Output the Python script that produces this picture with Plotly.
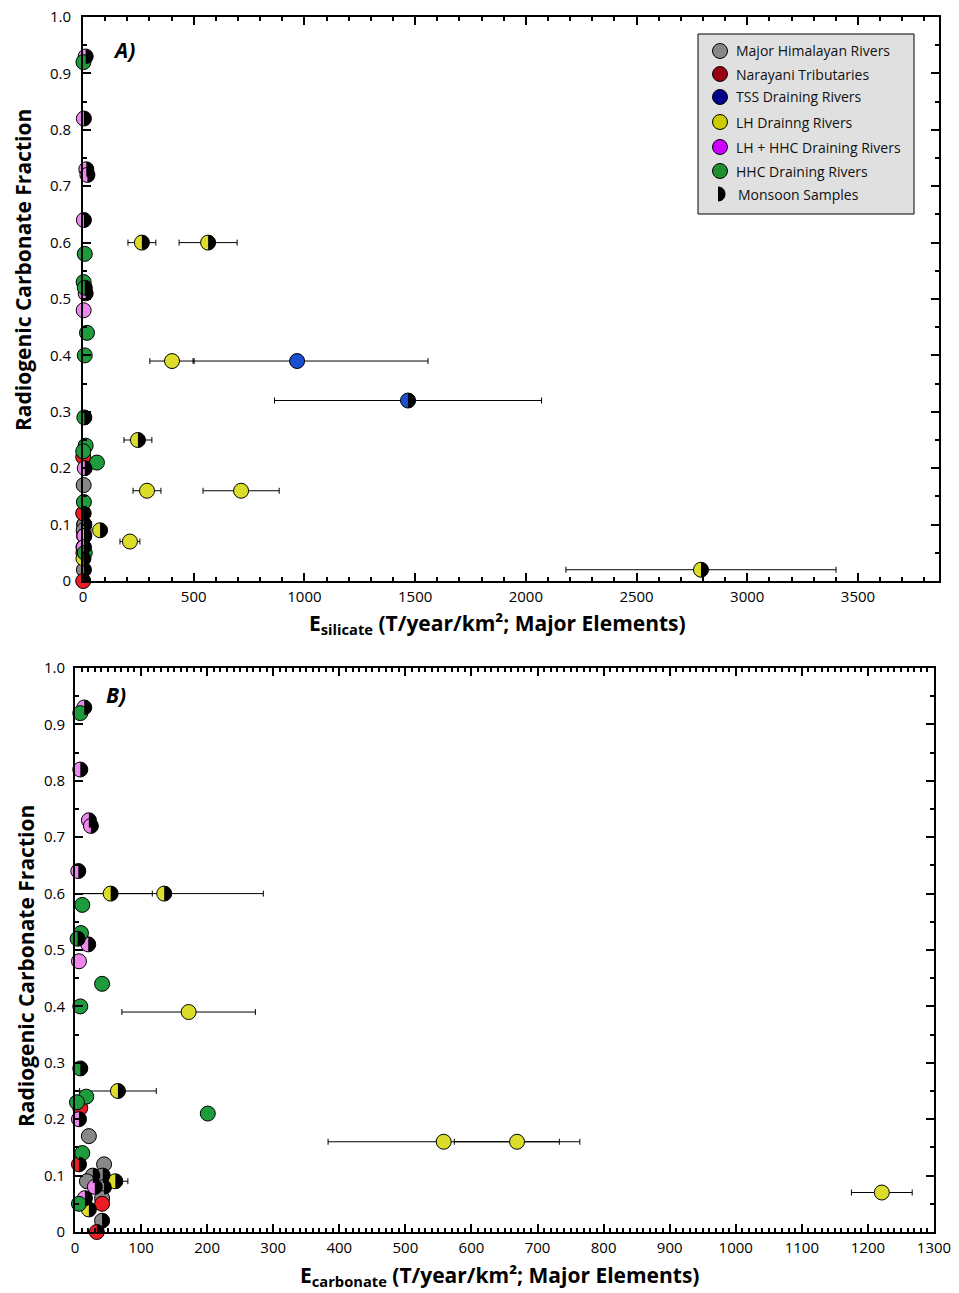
import plotly.graph_objects as go

# page has an 8px body margin; figure is sized/offset so it lands on the 959x1293 window
OFF = 8
W, H = 959 - OFF, 1293 - OFF

# ---------------- data ----------------
group_names = ["Major Himalayan Rivers", "Narayani Tributaries", "TSS Draining Rivers",
               "LH Drainng Rivers", "LH + HHC Draining Rivers", "HHC Draining Rivers"]
legend_colors = ["#878787", "#990012", "#00008b", "#cccc00", "#cc00ff", "#1f8f2f"]
point_colors = ["#888888", "#ee1c24", "#1a4fd0", "#dcdc2a", "#ee88ee", "#1e9b3c"]

grey_y = [0.17, 0.12, 0.10, 0.10, 0.09, 0.08, 0.06, 0.02]
grey_monsoon = [0, 0, 1, 1, 0, 1, 0, 1]
grey_esil = [3, 3, 5, 6, 3, 5, 2, 4]
grey_esil_err = [0, 0, 0, 0, 0, 0, 0, 0]
grey_ecarb = [21, 44, 27, 42, 18, 44, 41, 41]
grey_ecarb_err = [0, 0, 0, 0, 0, 0, 0, 0]

red_y = [0.22, 0.12, 0.05, 0.00]
red_monsoon = [0, 1, 0, 1]
red_esil = [1, 1, 2, 1]
red_esil_err = [0, 0, 0, 0]
red_ecarb = [8, 6, 41, 33]
red_ecarb_err = [0, 0, 0, 0]

blue_y = [0.39, 0.32]
blue_monsoon = [0, 1]
blue_esil = [967, 1468]
blue_esil_err = [591, 603]
blue_esil_err_minus = [470, 603]
blue_ecarb = [None, None]
blue_ecarb_err = [0, 0]

yellow_y = [0.60, 0.60, 0.39, 0.25, 0.16, 0.16, 0.09, 0.07, 0.04, 0.02]
yellow_monsoon = [1, 1, 0, 1, 0, 0, 1, 0, 1, 1]
yellow_esil = [266, 565, 402, 248, 289, 714, 77, 212, 2, 2791]
yellow_esil_err = [63, 131, 100, 63, 63, 172, 0, 45, 0, 610]
yellow_ecarb = [54, 135, 172, 65, 558, 669, 61, 1221, 21, None]
yellow_ecarb_err = [63, 150, 101, 58, 175, 95, 19, 46, 0, 0]

violet_y = [0.93, 0.82, 0.73, 0.72, 0.64, 0.51, 0.48, 0.20, 0.08, 0.06]
violet_monsoon = [1, 1, 1, 1, 1, 1, 0, 1, 1, 1]
violet_esil = [12, 4, 15, 20, 4, 12, 3, 8, 6, 4]
violet_esil_err = [0] * 10
violet_ecarb = [14, 8, 21, 24, 5, 20, 6, 6, 30, 15]
violet_ecarb_err = [0] * 10

green_y = [0.92, 0.58, 0.53, 0.52, 0.44, 0.40, 0.29, 0.24, 0.23, 0.21, 0.14, 0.05]
green_monsoon = [0, 0, 0, 1, 0, 0, 1, 0, 0, 0, 0, 0]
green_esil = [2, 8, 3, 8, 18, 8, 6, 12, 1, 63, 4, 8]
green_esil_err = [0] * 12
green_ecarb = [8, 11, 9, 4, 41, 8, 8, 17, 3, 201, 11, 6]
green_ecarb_err = [0] * 12

groups = [
    dict(y=grey_y, m=grey_monsoon, xs=grey_esil, xse=grey_esil_err, xsem=grey_esil_err,
         xc=grey_ecarb, xce=grey_ecarb_err),
    dict(y=red_y, m=red_monsoon, xs=red_esil, xse=red_esil_err, xsem=red_esil_err,
         xc=red_ecarb, xce=red_ecarb_err),
    dict(y=blue_y, m=blue_monsoon, xs=blue_esil, xse=blue_esil_err, xsem=blue_esil_err_minus,
         xc=blue_ecarb, xce=blue_ecarb_err),
    dict(y=yellow_y, m=yellow_monsoon, xs=yellow_esil, xse=yellow_esil_err, xsem=yellow_esil_err,
         xc=yellow_ecarb, xce=yellow_ecarb_err),
    dict(y=violet_y, m=violet_monsoon, xs=violet_esil, xse=violet_esil_err, xsem=violet_esil_err,
         xc=violet_ecarb, xce=violet_ecarb_err),
    dict(y=green_y, m=green_monsoon, xs=green_esil, xse=green_esil_err, xsem=green_esil_err,
         xc=green_ecarb, xce=green_ecarb_err),
]

y_ticks = [0, 0.1, 0.2, 0.3, 0.4, 0.5, 0.6, 0.7, 0.8, 0.9, 1.0]
y_ticklabels = ["0", "0.1", "0.2", "0.3", "0.4", "0.5", "0.6", "0.7", "0.8", "0.9", "1.0"]
xa_ticks = [0, 500, 1000, 1500, 2000, 2500, 3000, 3500]
xb_ticks = list(range(0, 1301, 100))

# ---------------- layout helpers (window pixel -> paper) ----------------
def px_x(p):
    return (p - OFF) / W

def px_y(p):
    return 1 - (p - OFF) / H

FONT = "Open Sans"
MS = 15  # marker diameter in px
R = MS / 2

fig = go.Figure()

panels = [("x", "y", "xs", "xse", "xsem"), ("x2", "y2", "xc", "xce", "xce")]

shapes = []
for xa, ya, kx, ke, kem in panels:
    # error bars first (clipped)
    for gi, g in enumerate(groups):
        xs, ys, ep, em = [], [], [], []
        for i in range(len(g["y"])):
            if g[kx][i] is None or g[ke][i] == 0:
                continue
            xs.append(g[kx][i]); ys.append(g["y"][i]); ep.append(g[ke][i]); em.append(g[kem][i])
        if xs:
            fig.add_trace(go.Scatter(
                x=xs, y=ys, xaxis=xa, yaxis=ya, mode="markers",
                marker=dict(size=1, color="rgba(0,0,0,0)"),
                error_x=dict(type="data", array=ep, arrayminus=em, symmetric=False,
                             color="black", thickness=1, width=3),
                showlegend=False, hoverinfo="skip"))
    # markers (not clipped)
    for gi, g in enumerate(groups):
        xs = [g[kx][i] for i in range(len(g["y"])) if g[kx][i] is not None]
        ys = [g["y"][i] for i in range(len(g["y"])) if g[kx][i] is not None]
        if not xs:
            continue
        fig.add_trace(go.Scatter(
            x=xs, y=ys, xaxis=xa, yaxis=ya, mode="markers", cliponaxis=False,
            marker=dict(size=MS, color=point_colors[gi], line=dict(color="black", width=1)),
            showlegend=False, name=group_names[gi]))
        k = 0.5523 * R
        half = f"M0,{R} C{k:.3f},{R} {R},{k:.3f} {R},0 C{R},{-k:.3f} {k:.3f},{-R} 0,{-R} Z"
        for i in range(len(g["y"])):
            if g["m"][i] and g[kx][i] is not None:
                shapes.append(dict(type="path", xref=xa, yref=ya, xsizemode="pixel",
                                   ysizemode="pixel", xanchor=g[kx][i], yanchor=g["y"][i],
                                   path=half, fillcolor="black", line=dict(width=0),
                                   layer="above"))

# ---------------- manual legend ----------------
lx0, lx1, ly0, ly1 = 698, 914, 34, 214
shapes.append(dict(type="rect", xref="paper", yref="paper",
                   x0=px_x(lx0), x1=px_x(lx1), y0=px_y(ly1), y1=px_y(ly0),
                   fillcolor="#e0e0e0", line=dict(color="black", width=1), layer="above"))
leg_rows = [51, 74, 97, 122, 147, 171]
annotations = []
for gi, yy in enumerate(leg_rows):
    shapes.append(dict(type="circle", xref="paper", yref="paper", xsizemode="pixel",
                       ysizemode="pixel", xanchor=px_x(720), yanchor=px_y(yy),
                       x0=-R, x1=R, y0=-R, y1=R, fillcolor=legend_colors[gi],
                       line=dict(color="black", width=1), layer="above"))
    annotations.append(dict(text=group_names[gi], xref="paper", yref="paper",
                            x=px_x(734), y=px_y(yy), xanchor="left", yanchor="middle",
                            showarrow=False, font=dict(family=FONT, size=14, color="#111")))
kk = 0.5523 * R
half_leg = f"M0,{R} C{kk:.3f},{R} {R},{kk:.3f} {R},0 C{R},{-kk:.3f} {kk:.3f},{-R} 0,{-R} Z"
shapes.append(dict(type="path", xref="paper", yref="paper", xsizemode="pixel",
                   ysizemode="pixel", xanchor=px_x(718), yanchor=px_y(194),
                   path=half_leg, fillcolor="black", line=dict(width=0), layer="above"))
annotations.append(dict(text="Monsoon Samples", xref="paper", yref="paper",
                        x=px_x(736), y=px_y(194), xanchor="left", yanchor="middle",
                        showarrow=False, font=dict(family=FONT, size=14, color="#111")))

# ---------------- titles ----------------
tfont = dict(family=FONT, size=21, color="black")
annotations += [
    dict(text="<b>E<sub>silicate</sub> (T/year/km²; Major Elements)</b>", xref="paper",
         yref="paper", x=px_x(497), y=px_y(624), xanchor="center", yanchor="middle",
         showarrow=False, font=tfont),
    dict(text="<b>E<sub>carbonate</sub> (T/year/km²; Major Elements)</b>", xref="paper",
         yref="paper", x=px_x(500), y=px_y(1276), xanchor="center", yanchor="middle",
         showarrow=False, font=tfont),
    dict(text="<b>Radiogenic Carbonate Fraction</b>", xref="paper", yref="paper",
         x=px_x(23), y=px_y(270), xanchor="center", yanchor="middle", textangle=-90,
         showarrow=False, font=tfont),
    dict(text="<b>Radiogenic Carbonate Fraction</b>", xref="paper", yref="paper",
         x=px_x(26), y=px_y(966), xanchor="center", yanchor="middle", textangle=-90,
         showarrow=False, font=tfont),
    dict(text="<b><i>A)</i></b>", xref="paper", yref="paper", x=px_x(124), y=px_y(50),
         xanchor="center", yanchor="middle", showarrow=False,
         font=dict(family=FONT, size=21, color="black")),
    dict(text="<b><i>B)</i></b>", xref="paper", yref="paper", x=px_x(116), y=px_y(695),
         xanchor="center", yanchor="middle", showarrow=False,
         font=dict(family=FONT, size=21, color="black")),
]

tickfont = dict(family=FONT, size=15, color="black")
common_axis = dict(showline=True, linecolor="black", linewidth=2, mirror="ticks",
                   ticks="inside", ticklen=8, tickwidth=1.5, tickcolor="black",
                   showgrid=False, zeroline=False, tickfont=tickfont, automargin=False,
                   ticklabeloverflow="allow")

fig.update_layout(
    template="none",
    width=W, height=H, margin=dict(l=0, r=0, t=0, b=0, pad=0, autoexpand=False),
    paper_bgcolor="white", plot_bgcolor="white", showlegend=False,
    shapes=shapes, annotations=annotations,
    xaxis=dict(domain=[px_x(83), px_x(939)], range=[0, 3866], anchor="y",
               tickvals=xa_ticks, ticktext=[str(v) for v in xa_ticks], ticklabelstandoff=1,
               minor=dict(dtick=100, tick0=0, ticks="inside", ticklen=4, tickcolor="black"),
               **common_axis),
    yaxis=dict(domain=[px_y(581), px_y(17)], range=[0, 1], anchor="x",
               tickvals=y_ticks, ticktext=y_ticklabels, ticklabelstandoff=7,
               minor=dict(dtick=0.05, tick0=0, ticks="inside", ticklen=4, tickcolor="black"),
               **common_axis),
    xaxis2=dict(domain=[px_x(75), px_x(934)], range=[0, 1300], anchor="y2",
                tickvals=xb_ticks, ticktext=[str(v) for v in xb_ticks], ticklabelstandoff=1,
                minor=dict(dtick=10, tick0=0, ticks="inside", ticklen=4, tickcolor="black"),
                **common_axis),
    yaxis2=dict(domain=[px_y(1232), px_y(668)], range=[0, 1], anchor="x2",
                tickvals=y_ticks, ticktext=y_ticklabels, ticklabelstandoff=5,
                minor=dict(dtick=0.05, tick0=0, ticks="inside", ticklen=4, tickcolor="black"),
                **common_axis),
)

fig.write_html("out.html")
